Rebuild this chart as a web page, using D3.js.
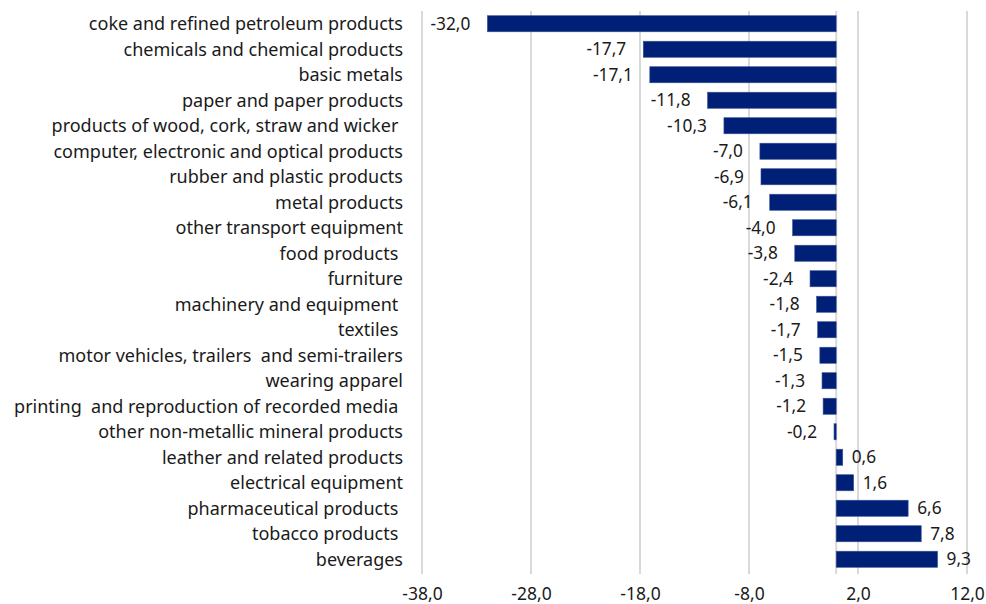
<!DOCTYPE html>
<html>
<head>
<meta charset="utf-8">
<script src="https://cdn.jsdelivr.net/npm/d3@7"></script>
<style>
  html, body { margin: 0; padding: 0; background: #fff; }
  svg { display: block; }
  text { font-family: "Noto Sans", sans-serif; fill: #1a1a1a; }
</style>
</head>
<body>
<svg id="chart" width="986" height="604"></svg>
<script>
const categories = [
  "coke and refined petroleum products",
  "chemicals and chemical products",
  "basic metals",
  "paper and paper products",
  "products of wood, cork, straw and wicker ",
  "computer, electronic and optical products",
  "rubber and plastic products",
  "metal products",
  "other transport equipment",
  "food products ",
  "furniture",
  "machinery and equipment ",
  "textiles ",
  "motor vehicles, trailers  and semi-trailers",
  "wearing apparel",
  "printing  and reproduction of recorded media ",
  "other non-metallic mineral products",
  "leather and related products",
  "electrical equipment",
  "pharmaceutical products ",
  "tobacco products ",
  "beverages"
];
const values = [-32.0, -17.7, -17.1, -11.8, -10.3, -7.0, -6.9, -6.1, -4.0, -3.8, -2.4, -1.8, -1.7, -1.5, -1.3, -1.2, -0.2, 0.6, 1.6, 6.6, 7.8, 9.3];
const xTicks = [-38, -28, -18, -8, 2, 12];
const xDomain = [-38, 12];

const svg = d3.select("#chart");
const margin = { left: 422, right: 19, top: 11, bottom: 32 };
const W = 986, H = 604;

const locale = d3.formatLocale({ decimal: ",", thousands: ".", grouping: [3], currency: ["", ""], minus: "-" });
const fmt = locale.format(".1f");

const x = d3.scaleLinear().domain(xDomain).range([margin.left, W - margin.right]);
const y = d3.scaleBand().domain(categories).range([margin.top, H - margin.bottom]).paddingInner(0.37).paddingOuter(0.185);

const data = categories.map((c, i) => ({ c, v: values[i] }));

// gridlines
svg.append("g")
  .selectAll("line")
  .data(xTicks)
  .join("line")
  .attr("x1", d => x(d)).attr("x2", d => x(d))
  .attr("y1", margin.top).attr("y2", H - margin.bottom + 2)
  .attr("stroke", "#d9d9d9").attr("stroke-width", 2);

// zero line
svg.append("line")
  .attr("x1", x(0)).attr("x2", x(0))
  .attr("y1", margin.top).attr("y2", H - margin.bottom + 2)
  .attr("stroke", "#d9d9d9").attr("stroke-width", 2);

// bars
svg.append("g")
  .selectAll("rect")
  .data(data)
  .join("rect")
  .attr("x", d => x(Math.min(0, d.v)))
  .attr("width", d => Math.abs(x(d.v) - x(0)))
  .attr("y", d => y(d.c))
  .attr("height", y.bandwidth())
  .attr("fill", "#002078")
  .attr("stroke", "#3a4f94")
  .attr("stroke-width", 0.6);

// value labels
svg.append("g")
  .selectAll("text")
  .data(data)
  .join("text")
  .attr("x", d => d.v < 0 ? x(d.v) - 17 : x(d.v) + 9)
  .attr("y", d => y(d.c) + y.bandwidth() / 2)
  .attr("dy", "0.35em")
  .attr("text-anchor", d => d.v < 0 ? "end" : "start")
  .style("font-size", "17.3px")
  .text(d => fmt(d.v));

// category labels
svg.append("g")
  .selectAll("text")
  .data(data)
  .join("text")
  .attr("x", 403)
  .attr("y", d => y(d.c) + y.bandwidth() / 2)
  .attr("dy", "0.35em")
  .attr("text-anchor", "end")
  .style("font-size", "18px")
  .style("white-space", "pre")
  .text(d => d.c);

// x axis tick labels
const xAxis = d3.axisBottom(x).tickValues(xTicks).tickSize(0).tickPadding(0).tickFormat(fmt);
const gx = svg.append("g").attr("transform", `translate(0, ${H - 16})`).call(xAxis);
gx.select(".domain").remove();
gx.selectAll("text").style("font-size", "17.5px").style("font-family", "'Noto Sans', sans-serif").attr("fill", "#1a1a1a");
</script>
</body>
</html>
